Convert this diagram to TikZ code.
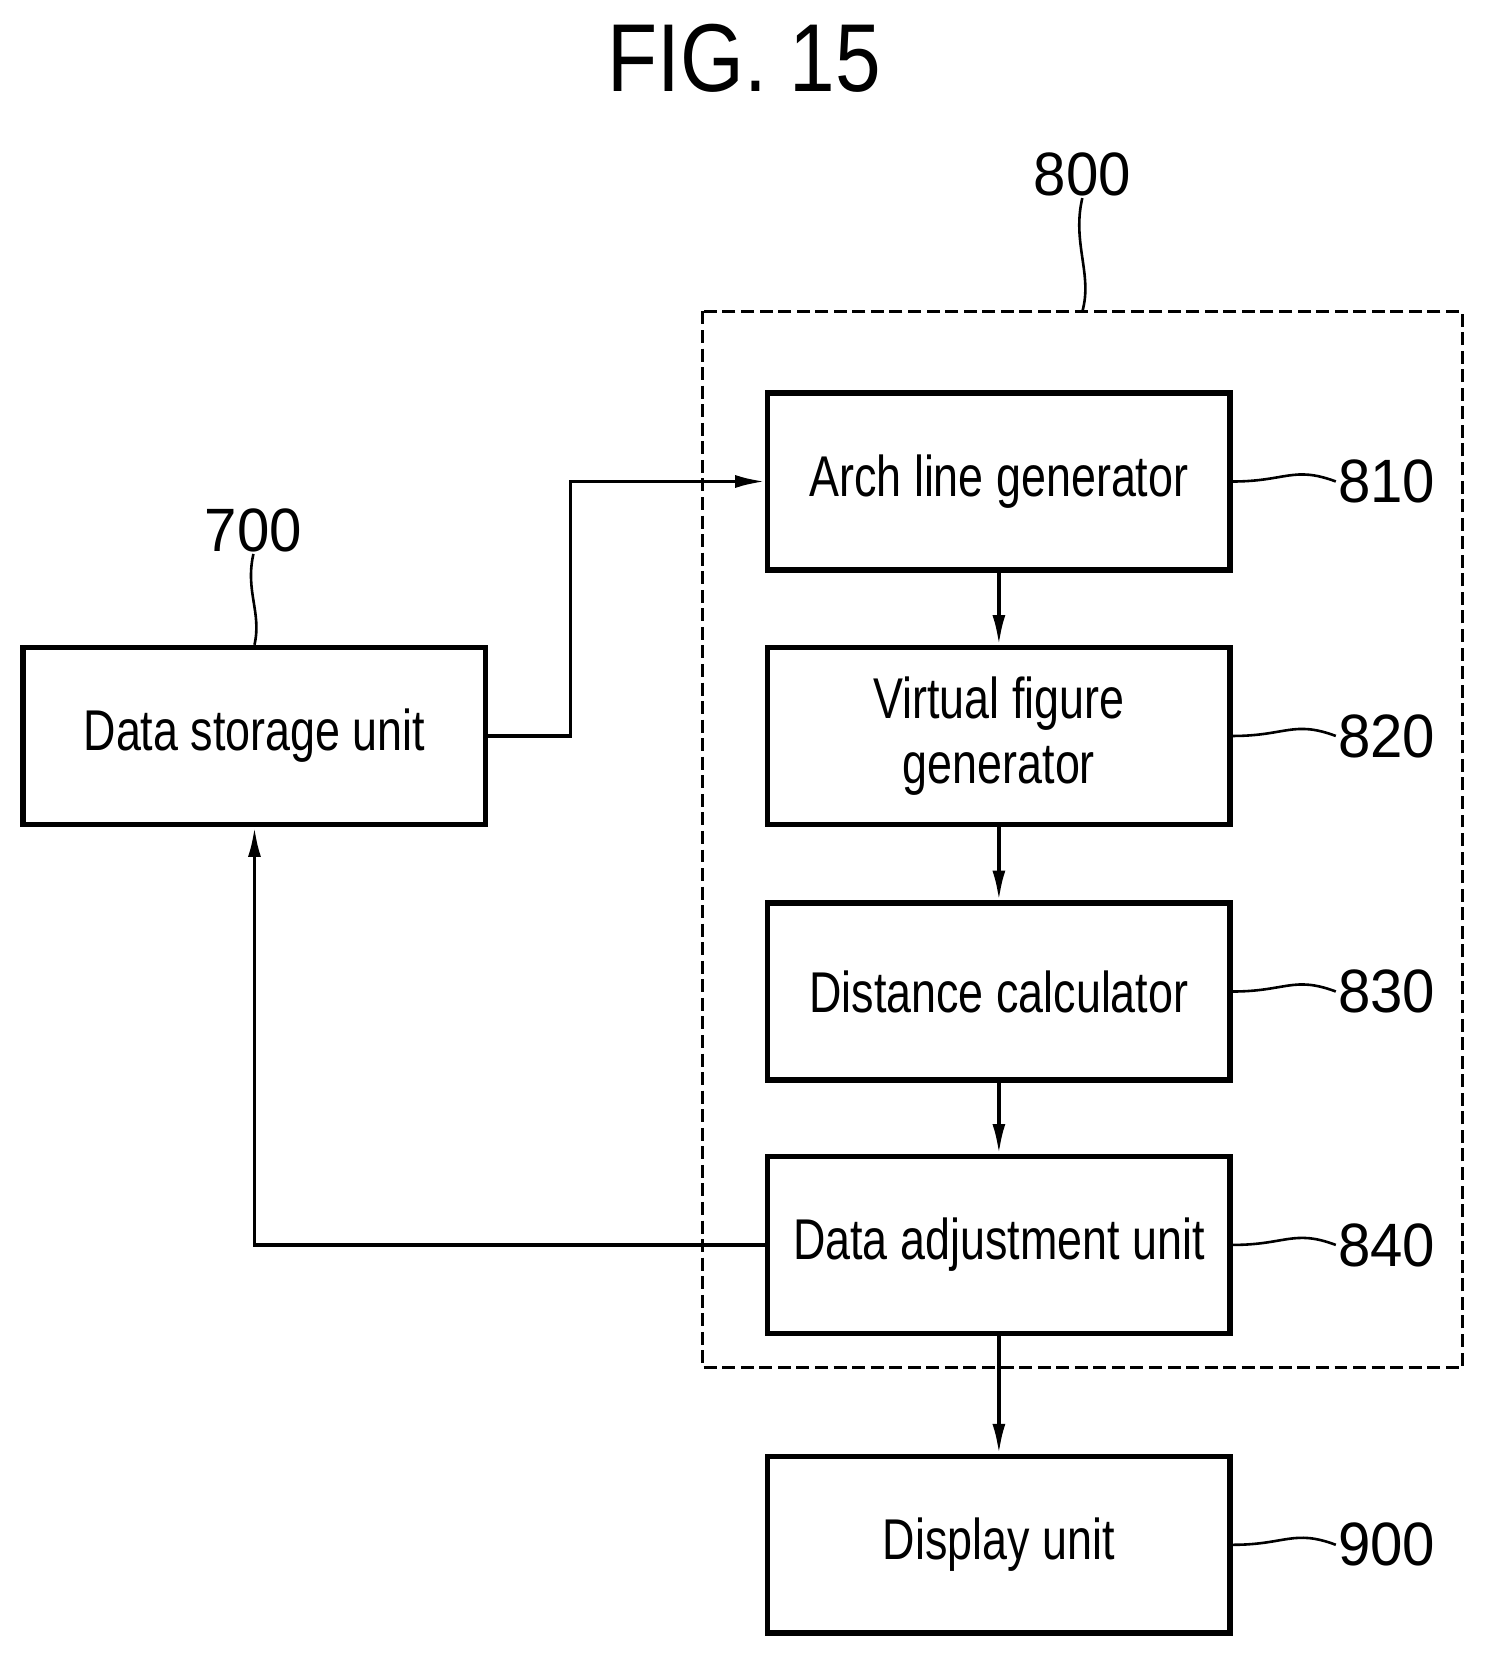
\documentclass[tikz,border=0pt]{standalone}
\usepackage{fontspec}
\setmainfont[FakeStretch=0.78]{Liberation Sans}
\newfontfamily\numfont[FakeStretch=0.95]{Liberation Sans}
\newfontfamily\titlefont[FakeStretch=0.85]{Liberation Sans}
\usetikzlibrary{arrows.meta}
\begin{document}
\begin{tikzpicture}[
    x=0.02cm, y=-0.02cm,
    block/.style={
        draw,
        line width=3pt,
        minimum width=8.76cm,
        minimum height=3.35cm,
        align=center,
        font=\fontsize{31}{35}\selectfont
    },
    refnum/.style={
        font=\numfont\fontsize{33}{36}\selectfont,
        inner sep=1pt
    },
    flow/.style={
        line width=1.8pt,
        -{Latex[length=16pt,width=7pt]}
    },
    leader/.style={
        line width=1.4pt
    }
]
\useasboundingbox (0,0) rectangle (1410,1574);

% =====================
% Titulo
% =====================
\node[font=\titlefont\fontsize{52}{56}\selectfont] (title) at (705,55) {FIG. 15};

% =====================
% Bloques
% =====================
\node[block] (arch)    at (946,456)  {Arch line generator};
\node[block] (virtual) at (946,697)  {Virtual figure\\generator};
\node[block] (dist)    at (946,939)  {Distance calculator};
\node[block] (adjust)  at (946,1179) {Data adjustment unit};
\node[block] (display) at (946,1463) {Display unit};
\node[block] (storage) at (241,697)  {Data storage unit};

% =====================
% Caja 800
% =====================
\draw[line width=1.8pt, dash pattern=on 7pt off 3pt] (665,295) rectangle (1385,1295);
\node[refnum] (l800) at (1025,165) {800};
\coordinate (c800) at (1025,295);
\draw[leader] (l800.south) .. controls (1015,230) and (1035,260) .. (c800);

\node[refnum] (l700) at (240,502) {700};
\draw[leader] (l700.south) .. controls (232,560) and (248,580) .. (storage.north);

% =====================
% Numeros de referencia
% =====================
\foreach \n/\lab in {arch/810, virtual/820, dist/830, adjust/840, display/900}{
    \node[refnum, anchor=west] (l\lab) at ([xshift=1.95cm]\n.east) {\lab};
    \draw[leader] (\n.east) .. controls +(1.0cm,0) and +(-0.8cm,0.3cm) .. (l\lab.west);
}

% =====================
% Flechas
% =====================
\draw[flow] (arch) -- (virtual);
\draw[flow] (virtual) -- (dist);
\draw[flow] (dist) -- (adjust);
\draw[flow] (adjust) -- (display);
\draw[flow] (storage.east) -| (540,456) -- (arch.west);
\draw[flow] (adjust.west) -| (storage.south);

\end{tikzpicture}
\end{document}
